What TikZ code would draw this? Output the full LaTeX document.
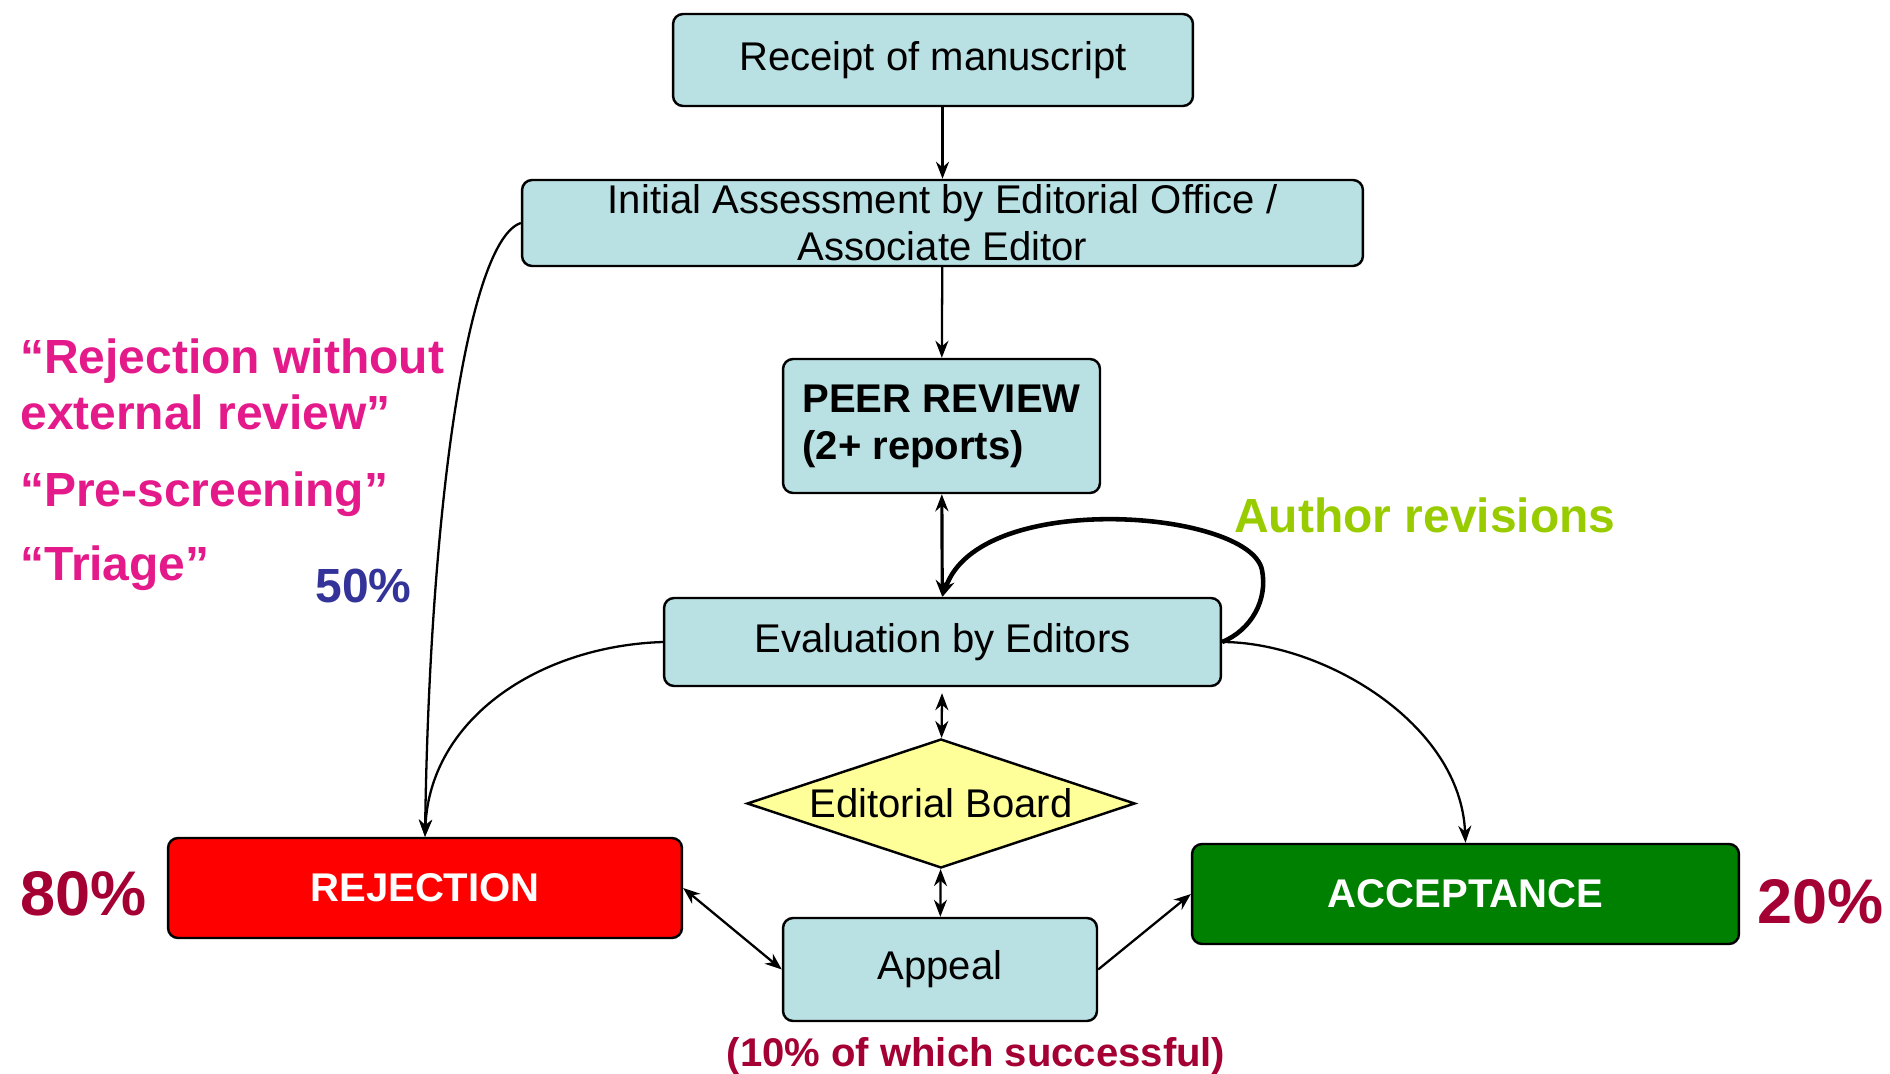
\documentclass[tikz,border=0pt]{standalone}
\usepackage{fontspec}
\setmainfont{Liberation Sans}
\usetikzlibrary{shapes.geometric,arrows.meta}
\definecolor{boxblue}{RGB}{185,224,227}
\definecolor{boardyellow}{RGB}{255,255,153}
\definecolor{rejred}{RGB}{255,0,0}
\definecolor{accgreen}{RGB}{0,128,0}
\definecolor{triagepink}{RGB}{228,26,138}
\definecolor{shareblue}{RGB}{51,51,153}
\definecolor{sharered}{RGB}{165,0,52}
\definecolor{revgreen}{RGB}{153,204,0}
\newcommand{\boxfont}{\fontsize{22.8pt}{26.7pt}\selectfont}
\newcommand{\notefont}{\fontsize{27.3pt}{31.8pt}\selectfont\bfseries}
\newcommand{\sharefont}{\fontsize{35.9pt}{40pt}\selectfont\bfseries}
\tikzstyle{stage} = [rectangle,
                      line width=1.4pt,
                      rounded corners=0.2cm,
                      inner sep=0pt,
                      font=\boxfont,
                      align=center,
                      draw=black,
                      fill=boxblue]
\tikzstyle{outcome} = [stage,
                      text=white,
                      font=\boxfont\bfseries]
\tikzstyle{board} = [diamond,
                      aspect=3,
                      line width=1.4pt,
                      inner sep=0pt,
                      font=\boxfont,
                      minimum width=7.76cm,
                      minimum height=2.58cm,
                      draw=black,
                      fill=boardyellow]
\tikzstyle{flow} = [line width=1.3pt,
                      -{Stealth[length=0.34cm,width=0.26cm]}]
\tikzstyle{twoway} = [line width=1.3pt,
                      {Stealth[length=0.34cm,width=0.26cm]}-{Stealth[length=0.34cm,width=0.26cm]}]
\tikzstyle{note} = [anchor=base west,
                      inner sep=0pt,
                      font=\notefont,
                      text=triagepink]

\begin{document}
\begin{tikzpicture}[x=0.02cm, y=-0.02cm]
     \useasboundingbox (0,0) rectangle (1890,1074);
     % main line
     \node [stage, minimum width=10.4cm, minimum height=1.84cm] (receipt) at (933,60) {Receipt of manuscript};
     \node [stage, minimum width=16.82cm, minimum height=1.72cm] (init) at (942.5,223) {Initial Assessment by Editorial Office /\\Associate Editor};
     \node [stage, minimum width=6.34cm, minimum height=2.68cm, align=left, font=\boxfont\bfseries] (peer) at (941.5,426) {PEER REVIEW\\(2+ reports)};
     \node [stage, minimum width=11.14cm, minimum height=1.76cm] (eval) at (942.5,642) {Evaluation by Editors};
     \node [board] (board) at (941,803.5) {Editorial Board};
     \node [stage, minimum width=6.28cm, minimum height=2.06cm] (appeal) at (940,969.5) {Appeal};
     % outcomes
     \node [outcome, minimum width=10.28cm, minimum height=2cm, fill=rejred] (rej) at (425,888) {REJECTION};
     \node [outcome, minimum width=10.94cm, minimum height=2cm, fill=accgreen] (acc) at (1465.5,894) {ACCEPTANCE};
     % labels
     \node [note] (rejnote) at (20,374) {“Rejection without};
     \node [note] (rejnote2) at (20,430) {external review”};
     \node [note] (prenote) at (20,506) {“Pre-screening”};
     \node [note] (triagenote) at (20,580) {“Triage”};
     \node [note, text=shareblue] (deskshare) at (315,602) {50\%};
     \node [note, text=revgreen] (revnote) at (1234,532) {Author revisions};
     \node [note, font=\sharefont, text=sharered] (rejshare) at (20,915) {80\%};
     \node [note, font=\sharefont, text=sharered] (accshare) at (1757,923) {20\%};
     \node [anchor=base, inner sep=0pt, font=\boxfont\bfseries, text=sharered] (appealshare) at (976,1066) {(10\% of which successful)};
     % connectors
     \draw [flow] (receipt.south -| init.north) -- (init.north);
     \draw [flow] (init) -- (peer);
     \draw [twoway, line width=1.8pt] (peer) -- (eval);
     \draw [twoway, shorten <=0.12cm] (eval) -- (board);
     \draw [twoway] (board) -- (appeal);
     \draw [twoway] (rej.east) -- (appeal.west);
     \draw [flow] (appeal.east) -- (acc.west);
     \draw [flow] (init.west) .. controls +(-52,17) and +(5,-338) .. (rej.north);
     \draw [flow] (eval.west) .. controls +(-124,4) and +(5,-118) .. (rej.north);
     \draw [flow] (eval.east) .. controls +(100,0) and +(-5,-120) .. (acc.north);
     % revision loop
     \coordinate (loop) at (1262,570);
     \draw [flow, line width=2.6pt] (eval.east) .. controls +(29,-12) and +(6,30) .. (loop)
          .. controls +(-12,-60) and +(37.5,-108) .. (eval.north);
\end{tikzpicture}
\end{document}
